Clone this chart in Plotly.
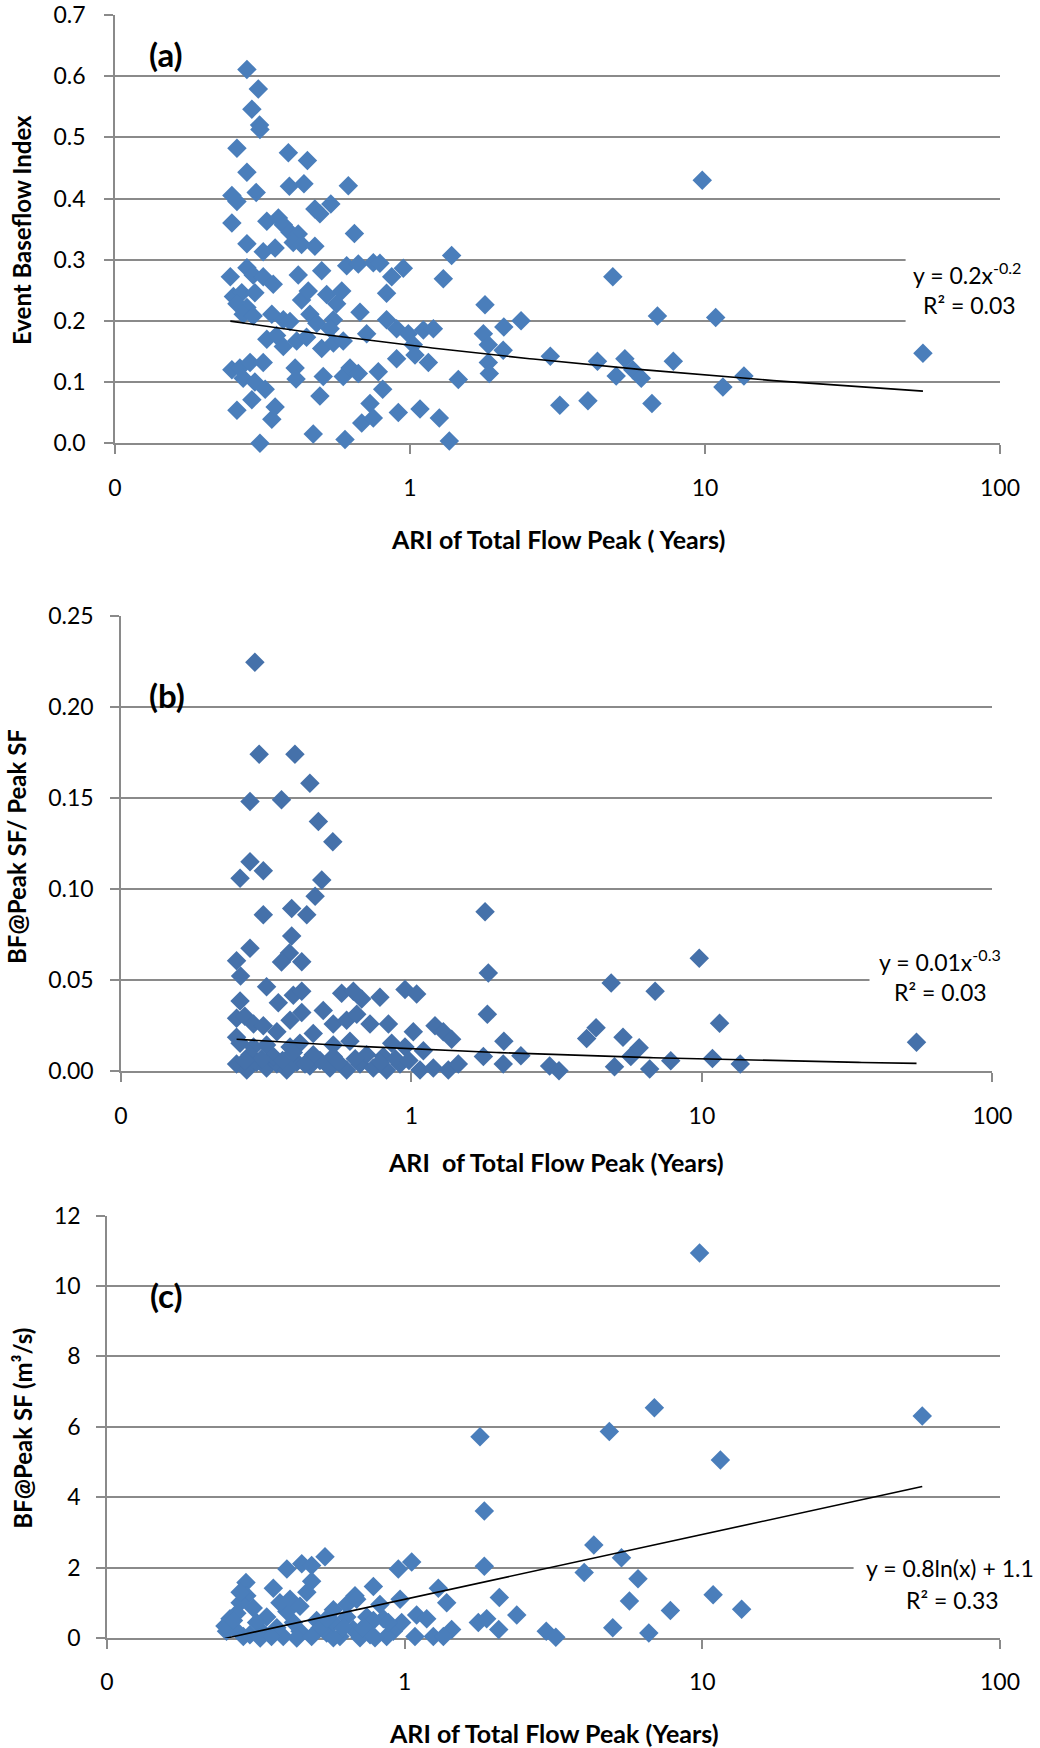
import numpy as np
import plotly.graph_objects as go

# ---------------- data ----------------
# events with ARI > 2 years (same events appear in all three panels)
ARI_SPARSE = [2.07, 2.08, 2.38, 2.99, 3.22, 4.01, 4.32, 4.87, 5.00, 5.35,
              5.69, 6.08, 6.61, 6.90, 7.81, 9.79, 10.87, 11.5, 13.55, 54.8]
EBI_SPARSE = [0.152, 0.190, 0.200, 0.142, 0.062, 0.0695, 0.134, 0.272, 0.110, 0.138,
              0.120, 0.106, 0.065, 0.208, 0.134, 0.430, 0.2055, 0.092, 0.110, 0.147]
RATIO_SPARSE = [0.004, 0.0166, 0.0086, 0.003, 0.0004, 0.018, 0.0239, 0.0485, 0.0025, 0.0187,
                0.0082, 0.013, 0.0013, 0.0439, 0.0059, 0.0621, 0.0071, 0.0264, 0.004, 0.016]
BF_SPARSE = [0.24, 1.15, 0.65, 0.19, 0.02, 1.86, 2.64, 5.87, 0.29, 2.28,
             1.05, 1.68, 0.14, 6.54, 0.78, 10.94, 1.23, 5.06, 0.82, 6.31]

# panel (a): Event Baseflow Index, events with ARI < 2 years
ARI_A = [0.280, 0.306, 0.291, 0.309, 0.310, 0.259, 0.280, 0.301, 0.387, 0.449,
         0.390, 0.437, 0.618, 0.249, 0.259, 0.249, 0.476, 0.495, 0.539, 0.648,
         0.280, 0.327, 0.358, 0.372, 0.392, 0.418, 0.402, 0.429, 0.349, 0.318,
         0.476, 1.384, 1.297, 0.610, 0.668, 0.751, 0.791, 0.949, 0.867, 0.833,
         0.502, 0.418, 0.429, 0.452, 0.522, 0.564, 0.587, 0.677, 0.833, 0.246,
         0.280, 0.294, 0.318, 0.344, 0.252, 0.269, 0.259, 0.280, 0.298, 0.272,
         0.294, 0.340, 0.372, 0.392, 0.458, 0.483, 0.550, 0.536, 0.327, 0.353,
         0.372, 0.413, 0.446, 0.502, 0.550, 0.594, 0.713, 0.901, 0.987, 1.110,
         1.200, 1.026, 1.040, 0.901, 1.154, 1.458, 0.249, 0.265, 0.287, 0.318,
         0.272, 0.298, 0.323, 0.408, 0.411, 0.508, 0.495, 0.594, 0.626, 0.668,
         0.781, 0.808, 0.732, 0.686, 0.751, 0.259, 0.291, 0.349, 0.340, 0.310,
         0.470, 0.602, 0.913, 1.081, 1.257, 1.359, 1.796, 1.773, 1.843, 1.843,
         1.857]
EBI_A = [0.611, 0.579, 0.546, 0.520, 0.513, 0.482, 0.443, 0.410, 0.475, 0.462,
         0.420, 0.424, 0.421, 0.405, 0.395, 0.360, 0.383, 0.375, 0.391, 0.343,
         0.326, 0.363, 0.368, 0.357, 0.345, 0.342, 0.328, 0.325, 0.319, 0.313,
         0.322, 0.307, 0.269, 0.290, 0.293, 0.295, 0.294, 0.286, 0.272, 0.245,
         0.282, 0.275, 0.234, 0.249, 0.243, 0.228, 0.249, 0.214, 0.202, 0.272,
         0.287, 0.275, 0.272, 0.260, 0.240, 0.246, 0.228, 0.222, 0.246, 0.211,
         0.208, 0.211, 0.202, 0.199, 0.211, 0.196, 0.202, 0.187, 0.170, 0.176,
         0.158, 0.167, 0.173, 0.155, 0.164, 0.167, 0.179, 0.187, 0.179, 0.185,
         0.187, 0.161, 0.144, 0.138, 0.132, 0.104, 0.120, 0.123, 0.132, 0.132,
         0.106, 0.100, 0.088, 0.123, 0.105, 0.109, 0.077, 0.109, 0.123, 0.114,
         0.117, 0.088, 0.065, 0.033, 0.041, 0.054, 0.071, 0.059, 0.039, 0.000,
         0.015, 0.006, 0.050, 0.056, 0.041, 0.0035, 0.2265, 0.179, 0.161, 0.132,
         0.114]

# panel (b): BF@Peak SF / Peak SF, events with ARI < 2 years
ARI_B = [0.289, 0.299, 0.397, 0.447, 0.278, 0.357, 0.478, 0.536, 0.278, 0.309,
         0.257, 0.491, 0.466, 0.387, 0.309, 0.436, 0.387, 0.278, 0.380, 0.357,
         0.419, 0.250, 0.258, 0.317, 1.792, 1.839, 1.825, 0.257, 0.348, 0.392,
         0.419, 0.575, 0.631, 0.674, 0.779, 0.950, 1.042, 0.250, 0.267, 0.286,
         0.309, 0.344, 0.382, 0.419, 0.459, 0.497, 0.538, 0.598, 0.648, 0.720,
         0.833, 1.015, 1.205, 1.287, 1.375, 0.250, 0.257, 0.286, 0.317, 0.382,
         0.413, 0.538, 0.614, 0.855, 0.950, 1.099, 1.768, 0.250, 0.271, 0.293,
         0.317, 0.344, 0.372, 0.403, 0.447, 0.484, 0.524, 0.598, 0.665, 0.739,
         0.821, 0.913, 1.070, 1.189, 1.339, 1.450, 0.278, 0.335, 0.392, 0.459,
         0.538, 0.701, 0.800, 0.305, 0.360, 0.430, 0.560, 0.640, 0.780, 0.880,
         0.980, 0.267]
RATIO_B = [0.2244, 0.174, 0.174, 0.158, 0.148, 0.149, 0.137, 0.126, 0.115, 0.110,
           0.106, 0.105, 0.096, 0.0894, 0.0859, 0.0859, 0.0743, 0.0676, 0.0649, 0.060,
           0.0602, 0.0607, 0.0523, 0.0464, 0.0875, 0.054, 0.0313, 0.0386, 0.0376, 0.0418,
           0.0439, 0.0428, 0.0439, 0.0397, 0.0407, 0.0449, 0.0424, 0.0292, 0.0302, 0.026,
           0.025, 0.0218, 0.0281, 0.0323, 0.0208, 0.0334, 0.026, 0.0281, 0.0313, 0.026,
           0.026, 0.0218, 0.025, 0.0218, 0.0176, 0.0187, 0.0155, 0.0134, 0.0145, 0.0134,
           0.0155, 0.0145, 0.0166, 0.0155, 0.0134, 0.0113, 0.0082, 0.004, 0.0008, 0.005,
           0.0019, 0.004, 0.0008, 0.005, 0.003, 0.006, 0.0019, 0.0008, 0.004, 0.0019,
           0.0008, 0.004, 0.0008, 0.0019, 0.0008, 0.004, 0.0092, 0.0082, 0.0103, 0.0092,
           0.0082, 0.0092, 0.0082, 0.007, 0.006, 0.004, 0.005, 0.007, 0.005, 0.007,
           0.006, 0.006]

# panel (c): BF@Peak SF (m3/s), events with ARI < 2 years
ARI_C = [1.791, 1.852, 1.852, 1.768, 1.886, 0.540, 0.402, 0.451, 0.487, 0.362,
         0.293, 0.487, 0.469, 0.952, 1.056, 0.785, 0.681, 1.297, 1.384, 0.965,
         0.826, 1.097, 1.186, 1.438, 1.248, 1.349, 1.083, 0.576, 0.639, 0.690,
         0.746, 0.848, 0.916, 0.977, 0.870, 0.765, 0.672, 0.606, 0.547, 0.506,
         0.520, 0.445, 0.423, 0.402, 0.381, 0.412, 0.391, 0.372, 0.344, 0.335,
         0.318, 0.310, 0.295, 0.280, 0.273, 0.266, 0.259, 0.252, 0.249, 0.287,
         0.302, 0.327, 0.357, 0.434, 0.487, 0.576, 0.708, 0.795, 0.576, 0.639,
         0.266, 0.280, 0.785, 0.445, 0.547, 0.622, 0.726, 0.881]
BF_C = [5.72, 3.61, 2.04, 0.44, 0.55, 2.31, 1.96, 2.11, 2.06, 1.41,
        1.58, 1.61, 1.30, 1.96, 2.16, 1.46, 1.20, 1.41, 1.00, 1.10,
        0.95, 0.65, 0.55, 0.24, 0.04, 0.04, 0.04, 0.80, 0.95, 1.10,
        0.60, 0.55, 0.19, 0.44, 0.04, 0.09, 0.24, 0.04, 0.14, 0.50,
        0.29, 0.19, 0.44, 0.75, 1.00, 1.10, 0.04, 0.29, 0.60, 0.14,
        0.44, 0.85, 1.20, 1.00, 0.70, 0.29, 0.55, 0.19, 0.34, 0.04,
        0.09, 0.00, 0.04, 0.00, 0.04, 0.01, 0.01, 0.01, 0.44, 0.60,
        0.50, 1.30, 0.50, 0.90, 0.55, 0.29, 0.29, 0.44]

# fitted trend lines shown in the chart (coefficients)
TREND_A = (0.160, -0.1575)    # power: a * x^b
TREND_B = (0.01234, -0.2577)  # power: a * x^b
TREND_C = (0.8, 1.1)          # logarithmic: a * ln(x) + b

X_TICKS = [0.1, 1, 10, 100]
X_TICK_TEXT = ["0", "1", "10", "100"]

# ---------------- styling ----------------
W, H = 1040, 1748
FONT = "Lato"
GRID = "#8a8a8a"
BLUE = "#4A7EBB"
BLUE_B = "#4571AA"
TICK_SIZE = 23


def fx(p):
    return p / W


def fy(p):
    return 1 - p / H


panels = [
    dict(x=ARI_A + ARI_SPARSE, y=EBI_A + EBI_SPARSE, color=BLUE,
         xd=(115, 1000), yd=(15, 443.2), yr=[0, 0.7], dt=0.1, fmt=".1f", sto=14,
         kind="pow", coef=TREND_A),
    dict(x=ARI_B + ARI_SPARSE, y=RATIO_B + RATIO_SPARSE, color=BLUE_B,
         xd=(121, 992.4), yd=(615.6, 1071.4), yr=[0, 0.25], dt=0.05, fmt=".2f", sto=12,
         kind="pow", coef=TREND_B),
    dict(x=ARI_C + ARI_SPARSE, y=BF_C + BF_SPARSE, color=BLUE,
         xd=(107, 1000), yd=(1215.6, 1638), yr=[0, 12], dt=2, fmt="d", sto=11,
         kind="log", coef=TREND_C),
]

fig = go.Figure()
layout = dict(width=W, height=H, margin=dict(l=0, r=0, t=0, b=0, autoexpand=False),
              paper_bgcolor="white", plot_bgcolor="white", showlegend=False,
              font=dict(family=FONT, size=22, color="black"))

for i, p in enumerate(panels):
    n = "" if i == 0 else str(i + 1)
    xa, ya = "x" + n, "y" + n
    fig.add_trace(go.Scatter(
        x=p["x"], y=p["y"], mode="markers", xaxis=xa, yaxis=ya,
        marker=dict(symbol="diamond", size=15, color=p["color"], line=dict(width=0)),
        cliponaxis=False, hoverinfo="skip"))
    tx = np.geomspace(min(p["x"]), max(p["x"]), 200)
    if p["kind"] == "pow":
        ty = p["coef"][0] * tx ** p["coef"][1]
    else:
        ty = p["coef"][0] * np.log(tx) + p["coef"][1]
    fig.add_trace(go.Scatter(x=tx, y=ty, mode="lines", xaxis=xa, yaxis=ya,
                             line=dict(color="black", width=1.6), hoverinfo="skip"))
    layout["xaxis" + n] = dict(
        type="log", range=[-1, 2], domain=[fx(p["xd"][0]), fx(p["xd"][1])],
        anchor=ya, tickvals=X_TICKS, ticktext=X_TICK_TEXT, ticks="outside",
        ticklen=9, tickwidth=1.5, tickcolor=GRID, showline=True, linecolor=GRID,
        linewidth=1.5, showgrid=False, zeroline=False, layer="below traces",
        automargin=False,
        tickfont=dict(family=FONT, size=TICK_SIZE), ticklabelstandoff=14)
    layout["yaxis" + n] = dict(
        range=p["yr"], dtick=p["dt"], tick0=0, tickformat=p["fmt"],
        domain=[fy(p["yd"][1]), fy(p["yd"][0])], anchor=xa,
        ticks="outside", ticklen=9, tickwidth=1.5, tickcolor=GRID,
        showline=True, linecolor=GRID, linewidth=1.5, showgrid=True,
        gridcolor=GRID, gridwidth=1.5, zeroline=False, layer="below traces",
        automargin=False,
        tickfont=dict(family=FONT, size=TICK_SIZE), ticklabelstandoff=p["sto"])

fig.update_layout(**layout)

# white boxes behind the trend-line labels (cut the gridlines like the original)
# (left edge px, top px, bottom px) in figure pixels
boxes = [(905.6, 250, 330), (869.5, 970, 990), (853.6, 1555, 1580)]
shapes = []
for x0, y0, y1 in boxes:
    shapes.append(dict(type="rect", xref="paper", yref="paper",
                       x0=fx(x0), x1=1.0, y0=fy(y1), y1=fy(y0),
                       fillcolor="white", line=dict(width=0), layer="above"))
fig.update_layout(shapes=shapes)

ann = []


def text(t, x, y, size=23, bold=False, angle=0, xanchor="center"):
    ann.append(dict(text=("<b>%s</b>" % t) if bold else t, x=fx(x), y=fy(y),
                    xref="paper", yref="paper", showarrow=False, textangle=angle,
                    xanchor=xanchor, yanchor="middle",
                    font=dict(family=FONT, size=size, color="black")))


# panel letters
text("(a)", 166, 53.6, size=33, bold=True)
text("(b)", 167, 694.8, size=33, bold=True)
text("(c)", 166, 1295, size=33, bold=True)

# axis titles
text("ARI of Total Flow Peak ( Years)", 557.7, 539.3, size=25, bold=True)
text("ARI\u00a0 of Total Flow Peak (Years)", 556.4, 1161.7, size=25, bold=True)
text("ARI of Total Flow Peak (Years)", 554, 1732.7, size=25, bold=True)
text("Event Baseflow Index", 21.7, 230.4, size=24, bold=True, angle=-90)
text("BF@Peak SF/ Peak SF", 17, 847, size=24, bold=True, angle=-90)
text("BF@Peak SF (m\u00b3/s)", 21.7, 1428, size=24, bold=True, angle=-90)

# trend-line equations
text("y = 0.2x<sup>-0.2</sup>", 967, 273.2)
text("R\u00b2 = 0.03", 969, 305.4)
text("y = 0.01x<sup>-0.3</sup>", 940, 960.8)
text("R\u00b2 = 0.03", 940, 992.2)
text("y = 0.8ln(x) + 1.1", 950, 1567.9)
text("R\u00b2 = 0.33", 952, 1600)

fig.update_layout(annotations=ann)
fig.write_html("out.html")
